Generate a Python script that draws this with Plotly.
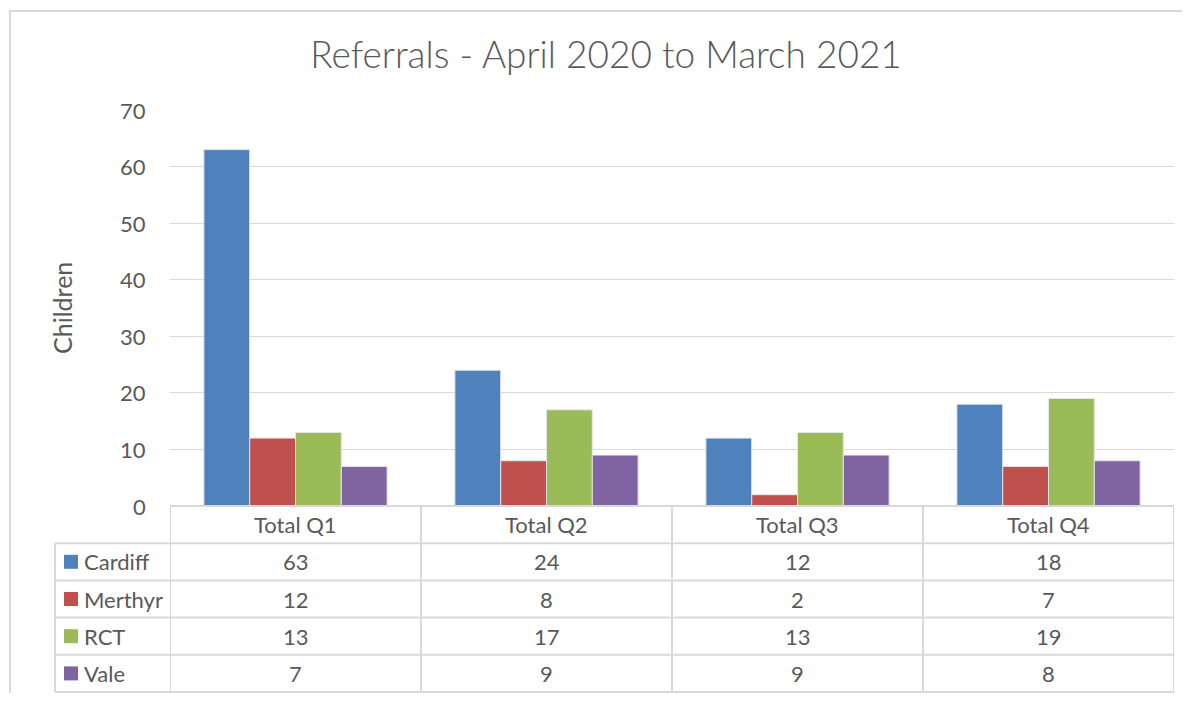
import plotly.graph_objects as go

categories = ["Total Q1", "Total Q2", "Total Q3", "Total Q4"]
series_names = ["Cardiff", "Merthyr", "RCT", "Vale"]
cardiff = [63, 24, 12, 18]
merthyr = [12, 8, 2, 7]
rct = [13, 17, 13, 19]
vale = [7, 9, 9, 8]
colors = ["#4F81BD", "#C0504D", "#9BBB59", "#8064A2"]
y_ticks = [0, 10, 20, 30, 40, 50, 60, 70]

values = [cardiff, merthyr, rct, vale]

# page body has an 8px margin; figure is sized so the page is 1190x701
OFF = 8
W, H = 1190 - 2 * OFF, 701 - 2 * OFF
ML = 170 - OFF
MT = 110 - OFF
MR = W - (1174 - OFF)
MB = 1
plot_w = W - ML - MR
plot_h = H - MT - MB
bar_bottom = 506 - OFF
dom0 = (H - MB - bar_bottom) / plot_h  # paper y of x-axis line


def px_x(x):
    return (x - OFF - ML) / plot_w


def px_y(y):
    return (H - MB - (y - OFF)) / plot_h


FONT = "Lato"
TXT = "#595959"
GRID = "#D9D9D9"
FS = 22

fig = go.Figure()
for name, vals, col in zip(series_names, values, colors):
    fig.add_trace(go.Bar(
        x=categories, y=vals, name=name,
        marker=dict(color=col, line=dict(color="#E6E6E6", width=1)),
        showlegend=False,
    ))

shapes = []
annotations = []

# y tick labels, positioned through the y axis scale
for t in y_ticks:
    annotations.append(dict(xref="paper", yref="y", x=px_x(148), y=t,
                            xanchor="right", yanchor="middle",
                            text=str(t), showarrow=False,
                            font=dict(family=FONT, size=FS, color=TXT)))

n_rows = len(series_names) + 1
row_h = dom0 / n_rows
label_left = px_x(55)

for i in range(n_rows + 1):
    yv = dom0 - i * row_h
    x0 = 0 if i == 0 else label_left
    shapes.append(dict(type="line", xref="paper", yref="paper",
                       x0=x0, x1=1, y0=yv, y1=yv,
                       line=dict(color=GRID, width=2)))
for k in range(len(categories) + 1):
    xv = k - 0.5
    shapes.append(dict(type="line", xref="x", yref="paper",
                       x0=xv, x1=xv, y0=0, y1=dom0,
                       line=dict(color=GRID, width=2)))
shapes.append(dict(type="line", xref="paper", yref="paper",
                   x0=label_left, x1=label_left, y0=0, y1=dom0 - row_h,
                   line=dict(color=GRID, width=2)))

for c in categories:
    annotations.append(dict(xref="x", yref="paper", x=c, y=dom0 - row_h / 2,
                            yanchor="middle", text=c, showarrow=False,
                            font=dict(family=FONT, size=FS, color=TXT)))
key_px = 14
for r, (name, vals, col) in enumerate(zip(series_names, values, colors)):
    yc = dom0 - (r + 1.5) * row_h
    kh = key_px / plot_h
    shapes.append(dict(type="rect", xref="paper", yref="paper",
                       x0=px_x(64), x1=px_x(64 + key_px),
                       y0=yc - kh / 2, y1=yc + kh / 2,
                       fillcolor=col, line=dict(width=0)))
    annotations.append(dict(xref="paper", yref="paper",
                            x=px_x(82), y=yc, xanchor="left", yanchor="middle",
                            text=name, showarrow=False,
                            font=dict(family=FONT, size=FS, color=TXT)))
    for c, v in zip(categories, vals):
        annotations.append(dict(xref="x", yref="paper", x=c, y=yc,
                                yanchor="middle", text=str(v), showarrow=False,
                                font=dict(family=FONT, size=FS, color=TXT)))

# y axis title
annotations.append(dict(xref="paper", yref="paper", x=px_x(62),
                        y=px_y(308), xanchor="center", yanchor="middle",
                        text="Children", textangle=-90, showarrow=False,
                        font=dict(family=FONT, size=25, color=TXT)))

# outer chart border (extends past right/bottom edges)
shapes.append(dict(type="rect", xref="paper", yref="paper",
                   x0=px_x(10), x1=px_x(1205),
                   y0=px_y(720), y1=px_y(11),
                   line=dict(color=GRID, width=2), fillcolor="rgba(0,0,0,0)",
                   layer="below"))

fig.update_layout(
    width=W, height=H,
    margin=dict(l=ML, r=MR, t=MT, b=MB, autoexpand=False),
    paper_bgcolor="white", plot_bgcolor="white",
    barmode="group", bargap=0.27, bargroupgap=0,
    title=dict(text="Referrals - April 2020 to March 2021",
               x=(606 - OFF) / W, xanchor="center",
               y=1 - (55 - OFF) / H, yanchor="middle",
               font=dict(family=FONT, size=37, color=TXT, weight=300)),
    xaxis=dict(showticklabels=False, showline=False, showgrid=False,
               zeroline=False, range=[-0.5, 3.5], fixedrange=True,
               automargin=False),
    yaxis=dict(domain=[dom0, 1], range=[0, 70], tickvals=y_ticks,
               showticklabels=False,
               showgrid=True, gridcolor=GRID, gridwidth=1,
               zeroline=False, showline=False, ticks="",
               automargin=False),
    shapes=shapes,
    annotations=annotations,
)

fig.write_html("out.html")
